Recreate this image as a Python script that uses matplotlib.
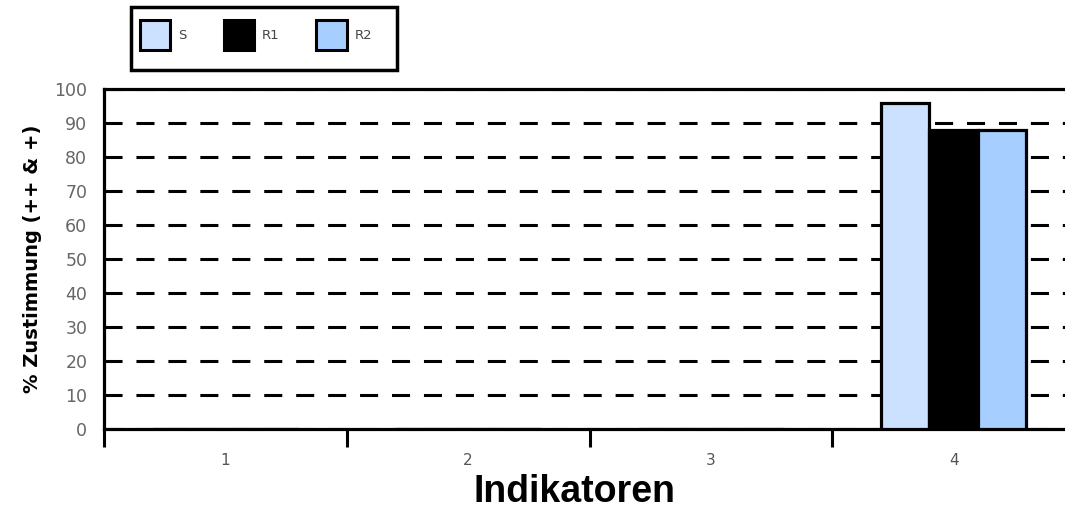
import matplotlib
matplotlib.use("Agg")
import matplotlib.pyplot as plt
from matplotlib.patches import Patch, Rectangle

categories = ["1", "2", "3", "4"]
series_names = ["S", "R1", "R2"]
values_S = [0, 0, 0, 96]
values_R1 = [0, 0, 0, 88]
values_R2 = [0, 0, 0, 88]
yticks = [0, 10, 20, 30, 40, 50, 60, 70, 80, 90, 100]

colors = ["#CCE0FF", "#000000", "#A6CEFF"]
plt.rcParams['lines.scale_dashes'] = False

W, H = 1065, 512
fig = plt.figure(figsize=(W / 100, H / 100), dpi=100)
ax = fig.add_axes([104 / W, 1 - 429 / H, 971 / W, 340 / H])

n = len(categories)
width = 0.2
series = [values_S, values_R1, values_R2]
for i, (vals, c, name) in enumerate(zip(series, colors, series_names)):
    xs = [k + 0.5 + (i - 1) * width for k in range(n)]
    ax.bar(xs, vals, width=width, color=c, edgecolor="black", linewidth=2.3,
           label=name, zorder=3)

ax.set_xlim(0, n)
ax.set_ylim(0, 100)
ax.set_yticks(yticks)
ax.set_yticklabels([str(t) for t in yticks])
ax.tick_params(axis="y", length=0, pad=12, labelsize=12.5, labelcolor="#666666")

ax.set_xticks(range(n + 1))
ax.set_xticklabels([])
ax.set_xticks([k + 0.5 for k in range(n)], minor=True)
ax.set_xticklabels(categories, minor=True)
ax.tick_params(axis="x", which="major", length=13, width=2.2, direction="out")
ax.tick_params(axis="x", which="minor", length=0, pad=17, labelsize=11,
               labelcolor="#555555")

ax.set_axisbelow(True)
ax.yaxis.grid(True, color="black", linewidth=2.2, linestyle=(0, (13, 10)))
ax.xaxis.grid(False)

for s in ["left", "bottom", "top"]:
    ax.spines[s].set_linewidth(2.3)
    ax.spines[s].set_color("black")
ax.spines["right"].set_visible(False)

ax.set_ylabel("% Zustimmung (++ & +)", fontsize=14, fontweight="bold",
              labelpad=9)
ax.set_xlabel("Indikatoren", fontsize=27, fontweight="bold",
              family="Liberation Sans")
ax.xaxis.label.set_va("center")
ax.xaxis.set_label_coords((574 - 104) / 971, (429 - 492) / 340)

# legend frame and legend
fig.patches.append(Rectangle((131 / W, 1 - 70 / H), 266 / W, 63 / H,
                             transform=fig.transFigure, fill=False,
                             edgecolor="black", linewidth=2.5))
handles = [Patch(facecolor=c, edgecolor="black", linewidth=2.2) for c in colors]
fig.legend(handles, series_names, loc="upper left",
           bbox_to_anchor=(140 / W, 1 - 20 / H), ncol=3, frameon=False,
           fontsize=9.5, labelcolor="#444444", handlelength=2.3,
           handleheight=3.1, handletextpad=0.6, columnspacing=2.8,
           borderpad=0, borderaxespad=0)

fig.savefig("out.png", dpi=100)
